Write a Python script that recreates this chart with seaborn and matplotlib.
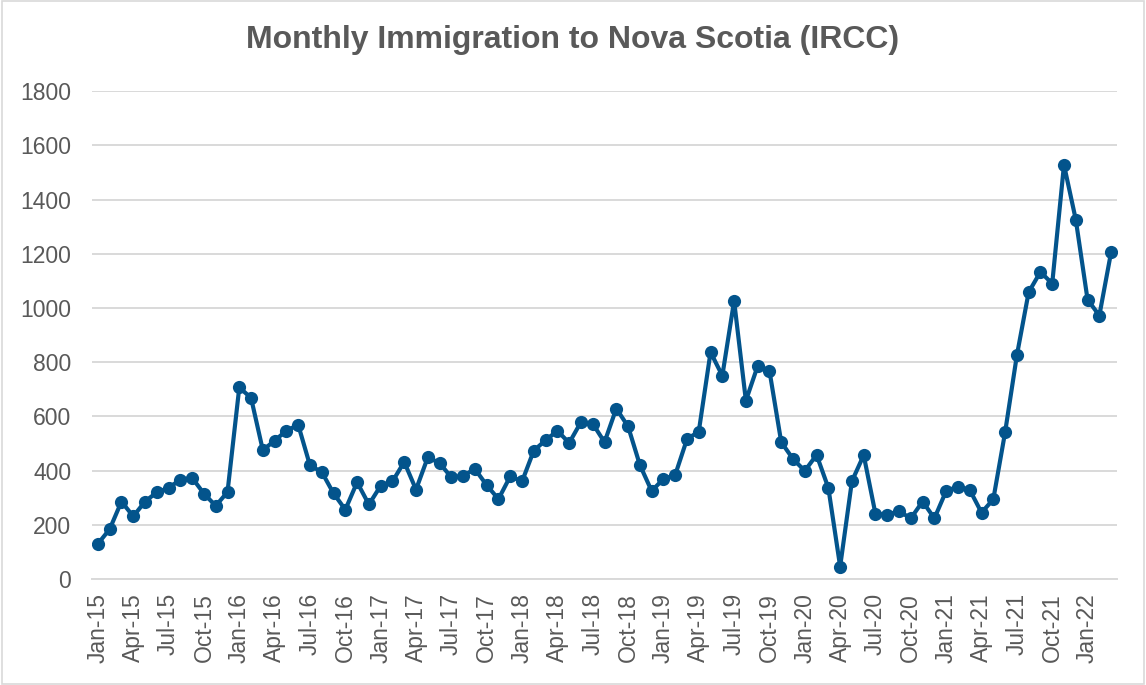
import pandas as pd
import numpy as np
import matplotlib
matplotlib.use("Agg")
import matplotlib.pyplot as plt
import seaborn as sns
from matplotlib.patches import Rectangle

# Monthly immigrants, Jan-2015 .. Mar-2022
valores = [
    130, 184, 286, 231, 286, 320, 336, 367, 373, 315, 270, 321,   # 2015
    707, 668, 475, 511, 547, 569, 419, 395, 316, 256, 357, 275,   # 2016
    344, 360, 432, 330, 449, 428, 375, 381, 406, 346, 295, 379,   # 2017
    360, 474, 512, 547, 502, 579, 573, 505, 629, 563, 421, 325,   # 2018
    369, 384, 516, 544, 837, 750, 1026, 658, 786, 768, 505, 443,  # 2019
    399, 458, 336, 46, 361, 457, 240, 238, 250, 224, 286, 224,    # 2020
    325, 341, 329, 245, 294, 541, 825, 1058, 1133, 1090, 1528, 1326,  # 2021
    1031, 972, 1206,                                              # 2022
]
meses = pd.date_range("2015-01-01", periods=len(valores), freq="MS")
rotulos = [m.strftime("%b-%y") for m in meses]
titulo = "Monthly Immigration to Nova Scotia (IRCC)"
y_ticks = list(range(0, 2000, 200))

df = pd.DataFrame({"pos": np.arange(len(valores)), "mes": rotulos, "imigrantes": valores})

sns.set_style("white")
plt.rcParams["font.family"] = ["Liberation Sans", "DejaVu Sans"]

cinza_txt = "#595959"
cinza_grid = "#d9d9d9"
azul = "#03548C"

fig = plt.figure(figsize=(11.46, 6.85), dpi=100)
ax = fig.add_axes([0.0803, 0.1547, 0.8944, 0.7123])

sns.lineplot(data=df, x="pos", y="imigrantes", ax=ax, color=azul, linewidth=3.0,
             marker="o", markersize=9.5, markeredgewidth=0, markerfacecolor=azul)

ax.set_xlim(-0.5, len(valores) - 0.5)
ax.set_ylim(0, 1800)
ax.set_yticks(y_ticks)
ax.set_yticklabels([str(v) for v in y_ticks], fontsize=16.5, color=cinza_txt)
ax.yaxis.grid(True, color=cinza_grid, linewidth=1.4)
ax.set_axisbelow(True)

# labels every 3 months, tick marks between categories
pos_rot = list(range(0, len(valores), 3))
ax.set_xticks(pos_rot)
ax.set_xticklabels([rotulos[i] for i in pos_rot], rotation=90, fontsize=16.5, color=cinza_txt)
ax.set_xticks(np.arange(-0.5, len(valores), 3), minor=True)
ax.tick_params(axis="x", which="major", length=0, pad=10)
ax.tick_params(axis="x", which="minor", length=6, width=1.2, color=cinza_grid)
ax.tick_params(axis="y", length=0, pad=15)

for lado in ["top", "right", "left"]:
    ax.spines[lado].set_visible(False)
ax.spines["bottom"].set_color(cinza_grid)
ax.spines["bottom"].set_linewidth(1.4)

ax.set_xlabel("")
ax.set_ylabel("")

fig.text(0.5, 0.941, titulo, ha="center", va="center", fontsize=23,
         fontweight="bold", color=cinza_txt)

# chart border
fig.patches.append(Rectangle((0.002, 0.002), 0.996, 0.996, transform=fig.transFigure,
                             fill=False, edgecolor=cinza_grid, linewidth=1.2))

fig.savefig("out.png", dpi=100)
